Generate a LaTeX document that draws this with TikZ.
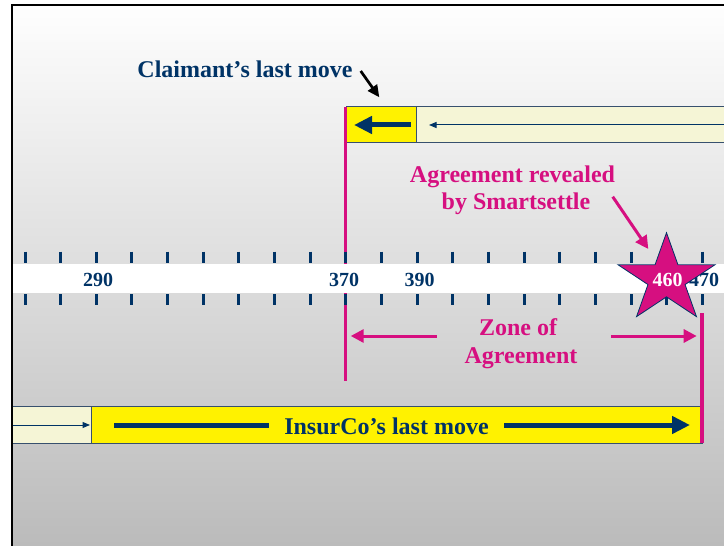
\documentclass[tikz,border=0pt]{standalone}
\usepackage{fontspec}
\setmainfont{Liberation Serif}
\usetikzlibrary{arrows.meta}
\definecolor{navy}{RGB}{0,51,102}
\definecolor{magen}{RGB}{214,15,128}
\definecolor{cream}{RGB}{245,245,214}
\definecolor{boxedge}{RGB}{55,80,110}
\definecolor{gtop}{RGB}{254,254,254}
\definecolor{gbot}{RGB}{187,187,187}

\begin{document}
\begin{tikzpicture}[x=1bp,y=-1bp,
  lbl/.style={font=\fontsize{24bp}{28bp}\selectfont\bfseries, inner sep=0pt, anchor=base},
  navytext/.style={lbl, text=navy},
  pinktext/.style={lbl, text=magen},
  num/.style={font=\fontsize{20bp}{24bp}\selectfont\bfseries, text=navy, inner sep=0pt, anchor=base},
  tickmark/.style={draw=navy, line width=3bp},
  bar/.style={draw=boxedge, line width=0.8bp},
  fatarrow/.style={draw=navy, line width=5bp, -{Triangle[length=18bp,width=17bp]}},
  thinarrow/.style={draw=navy, line width=1bp, -{Triangle[length=7.5bp,width=6bp]}},
  pinkarrow/.style={draw=magen, line width=3bp, -{Triangle[length=13bp,width=13bp]}},
  pinkline/.style={draw=magen, line width=3.2bp},
  pointer/.style={draw=black, line width=2.7bp, -{Triangle[length=12bp,width=11bp]}},
]
\useasboundingbox (0,0) rectangle (724,546);

% backdrop
\shade[top color=gtop, bottom color=gbot] (12,5) rectangle (724,546);

% claimant's bar
\path[fill=yellow, bar] (346,106.7) rectangle (416,142.7);
\path[fill=cream, bar] (416,106.7) rectangle (745,142.7);
\coordinate (cfat-tail) at (410.7,125);
\coordinate (cfat-tip) at (354,125);
\coordinate (cthin-tail) at (745,125);
\coordinate (cthin-tip) at (429,125);
\draw[fatarrow] (cfat-tail) -- (cfat-tip);
\draw[thinarrow] (cthin-tail) -- (cthin-tip);

% limit of the zone at 370
\coordinate (z370-top) at (345.7,106.7);
\coordinate (z370-bot) at (345.7,380.7);
\draw[pinkline] (z370-top) -- (z370-bot);

% number line
\fill[white] (13,264) rectangle (724,293);
\foreach \k in {0,...,19} {
  \draw[tickmark] ({25+35.65*\k},251.7) -- ++(0,11.6);
  \draw[tickmark] ({25+35.65*\k},294) -- ++(0,11.2);
}
\node[num] (n290) at (98,286.5) {290};
\node[num] (n370) at (344,286.5) {370};
\node[num] (n390) at (419.5,286.5) {390};
\node[num] (n470) at (704,286.5) {470};

% limit of the zone at 470
\coordinate (z470-top) at (702,313);
\coordinate (z470-bot) at (702,443.3);

% insurer's bar
\path[fill=cream, bar] (12,406.7) rectangle (91,443.3);
\path[fill=yellow, bar] (91,406.7) rectangle (702,443.3);
\coordinate (ithin-tail) at (13,425);
\coordinate (ithin-tip) at (90,425);
\coordinate (ifat-tail) at (114,425);
\coordinate (ifat-tip) at (690,425);
\draw[thinarrow] (ithin-tail) -- (ithin-tip);
\draw[fatarrow] (ifat-tail) -- (ifat-tip);
\node[navytext, fill=yellow, inner xsep=15bp] (insurco) at (386.5,434) {InsurCo’s last move};
\draw[pinkline] (z470-top) -- (z470-bot);

% zone of agreement
\node[pinktext] (zone1) at (518,335) {Zone of};
\node[pinktext] (zone2) at (521,363.3) {Agreement};
\coordinate (zl-tail) at (436.7,336);
\coordinate (zl-tip) at (350.7,336);
\coordinate (zr-tail) at (611,336);
\coordinate (zr-tip) at (696.7,336);
\draw[pinkarrow] (zl-tail) -- (zl-tip);
\draw[pinkarrow] (zr-tail) -- (zr-tip);

% revealed settlement
\node[pinktext] (rev1) at (512.5,182.3) {Agreement revealed};
\node[pinktext] (rev2) at (516,210) {by Smartsettle};
\coordinate (rev-tail) at (612.7,196.7);
\coordinate (rev-tip) at (648.3,249);
\draw[pinkarrow] (rev-tail) -- (rev-tip);

\filldraw[fill=magen, draw=navy, line width=0.8bp]
  (666.5,232.7) -- (655.04,264.78) -- (618.0,264.76) -- (647.95,284.57)
  -- (636.52,316.64) -- (666.5,296.8) -- (696.48,316.64) -- (685.05,284.57)
  -- (715.0,264.76) -- (677.96,264.78) -- cycle;
\node[num, text=white] (n460) at (667.5,286.5) {460};

% claimant caption
\node[navytext] (claimant) at (245,77.3) {Claimant’s last move};
\coordinate (ptr-tail) at (360.7,71);
\coordinate (ptr-tip) at (379.3,97.3);
\draw[pointer] (ptr-tail) -- (ptr-tip);

% frame
\draw[black, line width=2bp] (12,546) -- (12,5) -- (724,5);
\end{tikzpicture}
\end{document}
